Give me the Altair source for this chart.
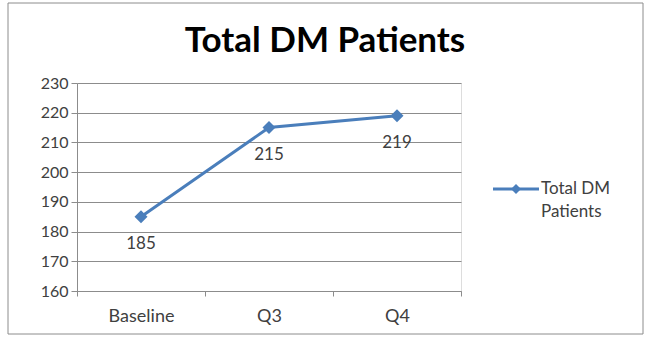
import altair as alt
import pandas as pd

categories = ["Baseline", "Q3", "Q4"]
values = [185, 215, 219]
series_name = "Total DM Patients"
legend_lines = ["Total DM", "Patients"]
y_ticks = [160, 170, 180, 190, 200, 210, 220, 230]

df = pd.DataFrame({"cat": categories, "val": values, "series": [series_name] * 3})

FONT = "Lato"
BLUE = "#4a7ebb"
TXT = "#404040"
GRID = "#8c8c8c"

x = alt.X("cat:N", sort=categories, title=None,
          scale=alt.Scale(paddingInner=0, paddingOuter=0),
          axis=alt.Axis(tickBand="extent", labelAngle=0, labelFont=FONT, labelFontSize=18,
                        labelColor=TXT, labelPadding=11, domainColor=GRID,
                        tickColor=GRID, tickSize=5, grid=False))
y = alt.Y("val:Q", title=None,
          scale=alt.Scale(domain=[160, 230], nice=False, zero=False),
          axis=alt.Axis(values=y_ticks, labelFont=FONT, labelFontSize=16, labelColor=TXT,
                        labelPadding=3, domainColor=GRID, tickColor=GRID,
                        tickSize=6, gridColor=GRID, gridWidth=1))

base = alt.Chart(df)

line = base.mark_line(strokeWidth=3, color=BLUE).encode(x=x, y=y)
pts = base.mark_point(shape="diamond", filled=True, size=170, opacity=1, color=BLUE).encode(x=x, y=y)
labels = base.mark_text(dy=27, font=FONT, fontSize=17, color=TXT).encode(
    x=x, y=y, text="val:Q")

one = alt.Chart(pd.DataFrame({"a": [0]}))

border = one.mark_rect(fill=None, stroke=GRID, strokeWidth=1).encode(
    x=alt.value(-69), x2=alt.value(566), y=alt.value(-80), y2=alt.value(251))

title = one.mark_text(text=series_name, font=FONT, fontSize=35, fontWeight="bold",
                      color="#000000", align="center", baseline="alphabetic").encode(
    x=alt.value(248), y=alt.value(-31))

leg_line = one.mark_rule(color=BLUE, strokeWidth=3).encode(
    x=alt.value(416), x2=alt.value(462), y=alt.value(106))
leg_pt = one.mark_point(shape="diamond", filled=True, size=100, opacity=1, color=BLUE).encode(
    x=alt.value(439), y=alt.value(106))
leg_txt = one.mark_text(text=legend_lines, font=FONT, fontSize=17, color=TXT,
                        align="left", baseline="middle", lineHeight=23).encode(
    x=alt.value(464), y=alt.value(106))

chart = alt.layer(border, title, line, pts, labels, leg_line, leg_pt, leg_txt).properties(
    width=384, height=208,
    autosize=alt.AutoSizeParams(type="none"),
    padding={"left": 77, "top": 83, "right": 185, "bottom": 48},
).configure_view(stroke=None).configure(background="white")

chart.save("out.html", embed_options={"renderer": "svg", "actions": False})
